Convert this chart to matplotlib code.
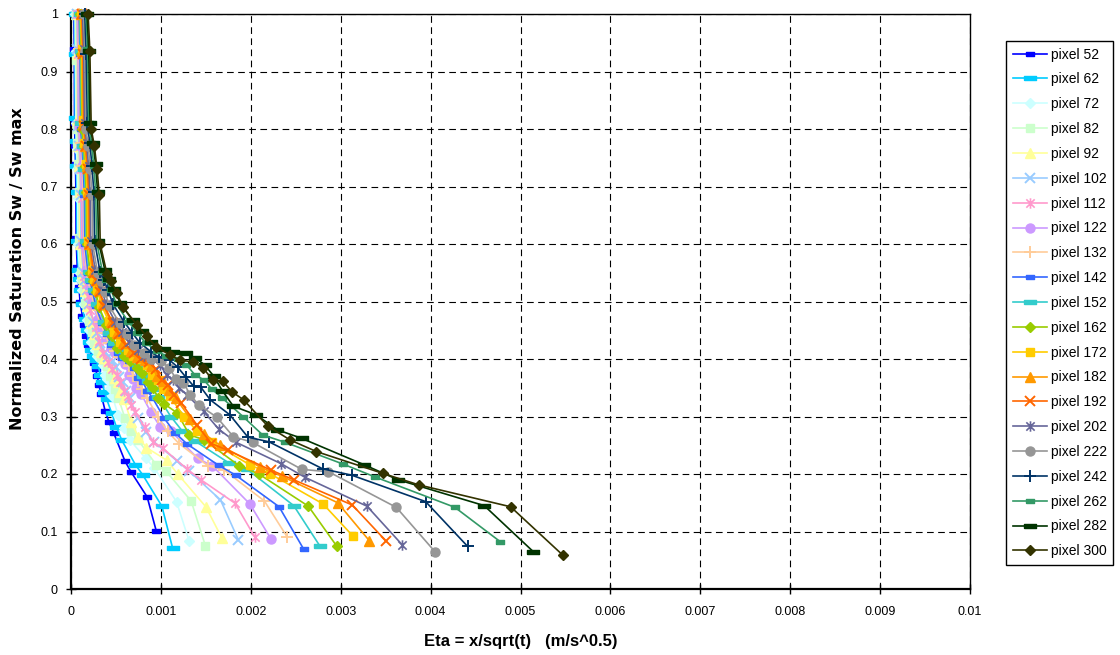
import matplotlib
matplotlib.use("Agg")
import matplotlib.pyplot as plt
from matplotlib.path import Path

# ---- data -------------------------------------------------------------
pixels = [52, 62, 72, 82, 92, 102, 112, 122, 132, 142, 152,
          162, 172, 182, 192, 202, 222, 242, 262, 282, 300]

# Eta (x 1e-3 m/s^0.5) reached by pixel 300 at each recorded time;
# every other pixel scales with its depth, eta = x / sqrt(t).
eta_pixel300 = [0.19, 0.21, 0.225, 0.26, 0.29, 0.315, 0.325, 0.40, 0.45, 0.51,
                0.58, 0.73, 0.84, 0.95, 1.10, 1.21, 1.36, 1.47, 1.58, 1.69,
                1.79, 1.92, 2.19, 2.44, 2.73, 3.47, 3.87, 4.89, 5.47]

sat_52 = [1.0, 0.94, 0.81, 0.77, 0.74, 0.69, 0.61, 0.56, 0.545, 0.525, 0.50, 0.475, 0.46, 0.44, 0.425,
          0.415, 0.405, 0.393, 0.382, 0.37, 0.355, 0.34, 0.31, 0.29, 0.272, 0.222, 0.203, 0.16, 0.101]
sat_62 = [1.0, 0.93, 0.82, 0.78, 0.735, 0.69, 0.605, 0.555, 0.54, 0.52, 0.495, 0.47, 0.45, 0.43, 0.415,
          0.405, 0.398, 0.388, 0.372, 0.36, 0.343, 0.33, 0.306, 0.282, 0.259, 0.216, 0.198, 0.144, 0.071]
sat_72 = [1.0, 0.935, 0.81, 0.765, 0.73, 0.68, 0.60, 0.55, 0.538, 0.52, 0.495, 0.468, 0.45, 0.43, 0.415,
          0.405, 0.40, 0.39, 0.373, 0.365, 0.35, 0.335, 0.302, 0.28, 0.259, 0.227, 0.21, 0.152, 0.084]
sat_82 = [1.0, 0.92, 0.80, 0.775, 0.74, 0.69, 0.61, 0.552, 0.54, 0.522, 0.497, 0.466, 0.447, 0.428, 0.414,
          0.404, 0.398, 0.388, 0.37, 0.362, 0.347, 0.333, 0.298, 0.274, 0.259, 0.216, 0.205, 0.153, 0.075]
sat_92 = [1.0, 0.93, 0.815, 0.77, 0.735, 0.69, 0.60, 0.55, 0.536, 0.518, 0.493, 0.463, 0.444, 0.426, 0.412,
          0.402, 0.396, 0.386, 0.367, 0.36, 0.343, 0.33, 0.29, 0.265, 0.246, 0.224, 0.20, 0.143, 0.089]
sat_102 = [1.0, 0.94, 0.805, 0.77, 0.73, 0.685, 0.605, 0.552, 0.538, 0.52, 0.495, 0.465, 0.446, 0.427, 0.413,
           0.403, 0.397, 0.386, 0.368, 0.36, 0.345, 0.332, 0.298, 0.273, 0.255, 0.223, 0.205, 0.155, 0.086]
sat_112 = [1.0, 0.93, 0.81, 0.77, 0.73, 0.68, 0.60, 0.545, 0.53, 0.51, 0.485, 0.455, 0.432, 0.41, 0.394,
           0.382, 0.372, 0.36, 0.345, 0.335, 0.32, 0.308, 0.282, 0.256, 0.245, 0.208, 0.19, 0.149, 0.091]
sat_122 = [1.0, 0.935, 0.805, 0.77, 0.735, 0.69, 0.60, 0.555, 0.54, 0.522, 0.498, 0.47, 0.452, 0.435, 0.42,
           0.41, 0.403, 0.392, 0.373, 0.365, 0.35, 0.339, 0.307, 0.282, 0.275, 0.227, 0.214, 0.148, 0.087]
sat_132 = [1.0, 0.94, 0.81, 0.775, 0.735, 0.685, 0.605, 0.55, 0.537, 0.518, 0.494, 0.465, 0.446, 0.428, 0.414,
           0.404, 0.398, 0.387, 0.37, 0.362, 0.347, 0.333, 0.30, 0.274, 0.253, 0.214, 0.207, 0.153, 0.09]
sat_142 = [1.0, 0.93, 0.80, 0.77, 0.73, 0.685, 0.60, 0.55, 0.535, 0.517, 0.492, 0.462, 0.443, 0.425, 0.411,
           0.401, 0.396, 0.385, 0.367, 0.36, 0.345, 0.332, 0.297, 0.272, 0.252, 0.215, 0.198, 0.143, 0.069]
sat_152 = [1.0, 0.935, 0.81, 0.77, 0.73, 0.69, 0.605, 0.552, 0.538, 0.52, 0.495, 0.465, 0.446, 0.428, 0.414,
           0.404, 0.398, 0.388, 0.37, 0.362, 0.347, 0.334, 0.30, 0.275, 0.257, 0.219, 0.208, 0.145, 0.074]
sat_162 = [1.0, 0.93, 0.80, 0.77, 0.735, 0.69, 0.60, 0.55, 0.535, 0.516, 0.49, 0.46, 0.44, 0.42, 0.406,
           0.396, 0.385, 0.375, 0.36, 0.35, 0.333, 0.322, 0.306, 0.268, 0.26, 0.214, 0.20, 0.144, 0.075]
sat_172 = [1.0, 0.94, 0.815, 0.775, 0.74, 0.69, 0.605, 0.555, 0.54, 0.52, 0.496, 0.466, 0.447, 0.43, 0.416,
           0.406, 0.40, 0.39, 0.372, 0.364, 0.348, 0.335, 0.30, 0.275, 0.255, 0.216, 0.20, 0.148, 0.092]
sat_182 = [1.0, 0.935, 0.81, 0.77, 0.735, 0.69, 0.60, 0.552, 0.538, 0.52, 0.495, 0.465, 0.446, 0.428, 0.414,
           0.404, 0.398, 0.388, 0.37, 0.362, 0.346, 0.332, 0.296, 0.27, 0.25, 0.212, 0.196, 0.15, 0.084]
sat_192 = [1.0, 0.93, 0.805, 0.77, 0.73, 0.685, 0.60, 0.55, 0.535, 0.516, 0.492, 0.462, 0.443, 0.425, 0.41,
           0.40, 0.394, 0.383, 0.363, 0.355, 0.338, 0.323, 0.285, 0.253, 0.241, 0.207, 0.19, 0.146, 0.084]
sat_202 = [1.0, 0.94, 0.81, 0.775, 0.735, 0.69, 0.605, 0.555, 0.54, 0.52, 0.495, 0.465, 0.447, 0.43, 0.416,
           0.406, 0.40, 0.39, 0.372, 0.363, 0.35, 0.337, 0.309, 0.278, 0.255, 0.218, 0.194, 0.144, 0.077]
sat_222 = [1.0, 0.935, 0.80, 0.77, 0.73, 0.685, 0.60, 0.55, 0.536, 0.516, 0.492, 0.462, 0.443, 0.425, 0.41,
           0.40, 0.396, 0.385, 0.366, 0.359, 0.338, 0.32, 0.299, 0.265, 0.255, 0.208, 0.204, 0.142, 0.065]
sat_242 = [1.0, 0.93, 0.81, 0.775, 0.735, 0.69, 0.605, 0.552, 0.538, 0.52, 0.495, 0.465, 0.446, 0.428, 0.413,
           0.403, 0.398, 0.386, 0.369, 0.353, 0.351, 0.329, 0.303, 0.264, 0.256, 0.209, 0.198, 0.152, 0.074]
sat_262 = [1.0, 0.94, 0.81, 0.775, 0.735, 0.69, 0.605, 0.552, 0.538, 0.52, 0.495, 0.465, 0.446, 0.428, 0.414,
           0.405, 0.40, 0.39, 0.372, 0.364, 0.348, 0.333, 0.30, 0.268, 0.255, 0.217, 0.195, 0.142, 0.082]
sat_282 = [1.0, 0.935, 0.81, 0.775, 0.74, 0.69, 0.605, 0.555, 0.54, 0.522, 0.498, 0.467, 0.448, 0.43, 0.418,
           0.412, 0.41, 0.402, 0.39, 0.37, 0.345, 0.318, 0.303, 0.277, 0.262, 0.216, 0.19, 0.145, 0.065]
sat_300 = [1.0, 0.935, 0.80, 0.77, 0.73, 0.685, 0.60, 0.548, 0.535, 0.515, 0.49, 0.46, 0.44, 0.421, 0.407,
           0.398, 0.395, 0.384, 0.363, 0.361, 0.343, 0.329, 0.283, 0.259, 0.239, 0.201, 0.181, 0.143, 0.059]

saturations = [sat_52, sat_62, sat_72, sat_82, sat_92, sat_102, sat_112, sat_122, sat_132,
               sat_142, sat_152, sat_162, sat_172, sat_182, sat_192, sat_202, sat_222,
               sat_242, sat_262, sat_282, sat_300]

x_ticks = [0, 0.001, 0.002, 0.003, 0.004, 0.005, 0.006, 0.007, 0.008, 0.009, 0.01]
x_tick_labels = ["0", "0.001", "0.002", "0.003", "0.004", "0.005",
                 "0.006", "0.007", "0.008", "0.009", "0.01"]
y_ticks = [0, 0.1, 0.2, 0.3, 0.4, 0.5, 0.6, 0.7, 0.8, 0.9, 1.0]
y_tick_labels = ["0", "0.1", "0.2", "0.3", "0.4", "0.5", "0.6", "0.7", "0.8", "0.9", "1"]

# ---- styles ---------------------------------------------------------------
colors = ["#0000FF", "#00CCFF", "#CCFFFF", "#CCFFCC", "#FFFF99", "#99CCFF", "#FF99CC",
          "#CC99FF", "#FFCC99", "#3366FF", "#33CCCC", "#99CC00", "#FFCC00", "#FF9900",
          "#FF6600", "#666699", "#969696", "#003366", "#339966", "#003300", "#333300"]

short_dash = Path([(-1, -0.4), (1, -0.4), (1, 0.4), (-1, 0.4), (-1, -0.4)])
long_dash = Path([(-1, -0.3), (1, -0.3), (1, 0.3), (-1, 0.3), (-1, -0.3)])
asterisk = Path([(-1, -1), (1, 1), (-1, 1), (1, -1), (0, -1.25), (0, 1.25)],
                [Path.MOVETO, Path.LINETO, Path.MOVETO, Path.LINETO, Path.MOVETO, Path.LINETO])

marker_cycle = [
    dict(marker=short_dash, markersize=5.5),
    dict(marker=long_dash, markersize=8),
    dict(marker="D", markersize=5),
    dict(marker="s", markersize=6),
    dict(marker="^", markersize=7),
    dict(marker="x", markersize=6.5, markeredgewidth=1.4),
    dict(marker=asterisk, markersize=7.5, markeredgewidth=1.2, markerfacecolor="none"),
    dict(marker="o", markersize=6.5),
    dict(marker="+", markersize=8.5, markeredgewidth=1.4),
]

plt.rcParams["font.family"] = ["Liberation Sans", "DejaVu Sans"]

W, H = 1120, 655
fig = plt.figure(figsize=(W / 100, H / 100), dpi=100)
ax = fig.add_axes([71 / W, 1 - 589 / H, (970 - 71) / W, (589 - 14) / H])

handles = []
for i, (pix, sat) in enumerate(zip(pixels, saturations)):
    eta = [e * 1e-3 * pix / 300 for e in eta_pixel300]
    style = dict(marker_cycle[i % len(marker_cycle)])
    style.setdefault("markeredgewidth", 1.0)
    line, = ax.plot(eta, sat, color=colors[i], linewidth=1.2,
                    markeredgecolor=colors[i], label=f"pixel {pix}",
                    clip_on=False, zorder=3 + i * 0.01, **style)
    handles.append(line)

ax.set_xlim(0, 0.01)
ax.set_ylim(0, 1)
ax.set_xticks(x_ticks)
ax.set_xticklabels(x_tick_labels)
ax.set_yticks(y_ticks)
ax.set_yticklabels(y_tick_labels)
ax.tick_params(direction="inout", length=7, width=1, labelsize=9, colors="black")
ax.tick_params(axis="x", pad=9)
ax.tick_params(axis="y", pad=6)

ax.grid(True, color="black", linestyle=(0, (6, 4)), linewidth=0.8, zorder=1)
ax.set_axisbelow(True)
for side in ["top", "right"]:
    ax.spines[side].set_linewidth(1.0)
for side in ["left", "bottom"]:
    ax.spines[side].set_linewidth(1.6)

ax.set_xlabel("Eta = x/sqrt(t)   (m/s^0.5)", fontsize=12, fontweight="bold")
ax.xaxis.set_label_coords(0.5, (589 - 634) / 575)
ax.set_ylabel("Normalized Saturation Sw / Sw max", fontsize=11.5, fontweight="bold",
              family=["DejaVu Sans"])
ax.yaxis.set_label_coords((25 - 71) / 899, (589 - 269) / 575)

fig.legend(handles=handles, loc="upper left", bbox_to_anchor=(1006 / W, 1 - 41 / H),
           frameon=True, fancybox=False, edgecolor="black", framealpha=1,
           fontsize=10, handlelength=2.45, handletextpad=0.3, labelspacing=0.78,
           borderpad=0.47, borderaxespad=0)

fig.savefig("out.png", dpi=100)
